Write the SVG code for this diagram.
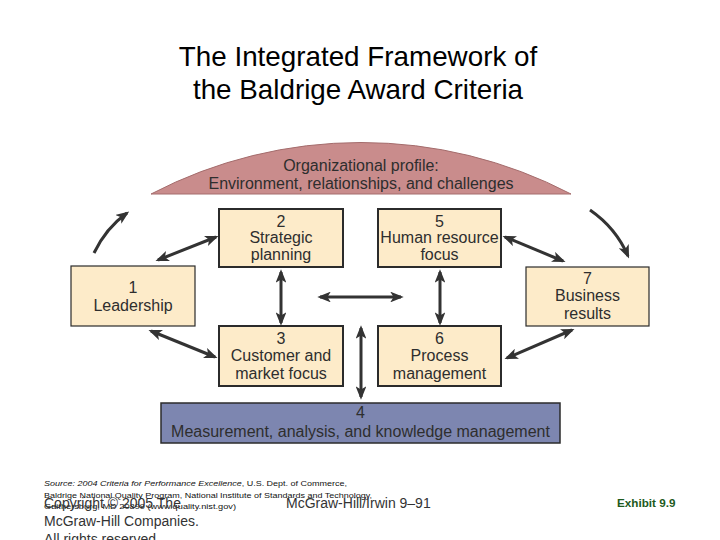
<svg xmlns="http://www.w3.org/2000/svg" width="720" height="540" viewBox="0 0 720 540">
<style>
.t{font-family:"Liberation Sans",Arial,sans-serif;fill:#2e2e2e;text-anchor:middle;font-size:16px}
.title{font-family:"Liberation Sans",Arial,sans-serif;font-size:27.8px;fill:#000;text-anchor:middle}
.box{fill:#fdebc9;stroke:#2b2b2b;stroke-width:2}
.thin{stroke-width:1.2}
.conn{fill:none;stroke:#333;stroke-width:3;marker-end:url(#ah)}
.bi{marker-start:url(#ah)}
.small{font-family:"Liberation Sans",Arial,sans-serif;font-size:8px;fill:#111}
.foot{font-family:"Liberation Sans",Arial,sans-serif;font-size:14px;fill:#333}
</style>
<defs>
<marker id="ah" viewBox="0 0 10 8" refX="8" refY="4" markerWidth="4.5" markerHeight="3.6" orient="auto-start-reverse" markerUnits="strokeWidth">
<path d="M0,0 L10,4 L0,8 L2.5,4 Z" fill="#333"/>
</marker>
</defs>
<rect width="720" height="540" fill="#fff"/>
<text class="title" x="358" y="66">The Integrated Framework of</text>
<text class="title" x="358" y="99">the Baldrige Award Criteria</text>

<g id="profile">
<path d="M151,194 A454,454 0 0 1 571,194 Z" fill="#c98c8c" stroke="#a46c6c" stroke-width="1"/>
<text class="t" x="361" y="171">Organizational profile:</text>
<text class="t" x="361" y="189">Environment, relationships, and challenges</text>
</g>

<g id="n1">
<rect class="box thin" x="71" y="266" width="124" height="60"/>
<text class="t" x="133" y="293">1</text>
<text class="t" x="133" y="311">Leadership</text>
</g>
<g id="n2">
<rect class="box" x="219" y="209" width="124" height="58"/>
<text class="t" x="281" y="227">2</text>
<text class="t" x="281" y="243">Strategic</text>
<text class="t" x="281" y="260">planning</text>
</g>
<g id="n5">
<rect class="box" x="378" y="209" width="123" height="58"/>
<text class="t" x="439.5" y="227">5</text>
<text class="t" x="439.5" y="243">Human resource</text>
<text class="t" x="439.5" y="260">focus</text>
</g>
<g id="n7">
<rect class="box thin" x="526" y="267" width="123" height="59"/>
<text class="t" x="587.5" y="284">7</text>
<text class="t" x="587.5" y="301">Business</text>
<text class="t" x="587.5" y="319">results</text>
</g>
<g id="n3">
<rect class="box" x="219" y="326" width="124" height="60"/>
<text class="t" x="281" y="344">3</text>
<text class="t" x="281" y="361">Customer and</text>
<text class="t" x="281" y="379">market focus</text>
</g>
<g id="n6">
<rect class="box" x="378" y="326" width="123" height="60"/>
<text class="t" x="439.5" y="344">6</text>
<text class="t" x="439.5" y="361">Process</text>
<text class="t" x="439.5" y="379">management</text>
</g>
<g id="n4">
<rect x="161" y="403" width="399" height="40" fill="#7d86b0" stroke="#2b2b2b" stroke-width="1.5"/>
<text class="t" x="360.5" y="418">4</text>
<text class="t" x="360.5" y="437">Measurement, analysis, and knowledge management</text>
</g>

<g id="connectors">
<path class="conn bi" d="M281,272 L281,323"/>
<path class="conn bi" d="M440,272 L440,323"/>
<path class="conn bi" d="M320,297 L401,297"/>
<path class="conn bi" d="M361,328 L361,397"/>
<path class="conn bi" d="M158,260 L216,237"/>
<path class="conn bi" d="M505,237 L563,261"/>
<path class="conn bi" d="M151,331 L215,357"/>
<path class="conn bi" d="M507,358 L572,330"/>
<path class="conn" d="M94,253 Q106,228 127,213"/>
<path class="conn" d="M590,210 Q616,228 628,256"/>
</g>

<g id="footer">
<text class="small" x="44" y="486" textLength="303" lengthAdjust="spacingAndGlyphs"><tspan font-style="italic">Source: 2004 Criteria for Performance Excellence</tspan>, U.S. Dept. of Commerce,</text>
<text class="small" x="44" y="498" textLength="328" lengthAdjust="spacingAndGlyphs">Baldrige National Quality Program, National Institute of Standards and Technology,</text>
<text class="small" x="44" y="509" textLength="192" lengthAdjust="spacingAndGlyphs">Gaithersburg, MD 20899 (www.quality.nist.gov)</text>
<text class="foot" x="44" y="508">Copyright © 2005 The</text>
<text class="foot" x="44" y="526">McGraw-Hill Companies.</text>
<text class="foot" x="44" y="544">All rights reserved.</text>
<text class="foot" x="286" y="508">McGraw-Hill/Irwin  9–91</text>
<text x="617" y="507" font-family="'Liberation Sans',Arial,sans-serif" font-size="11.7" font-weight="bold" fill="#1d5a1d">Exhibit 9.9</text>
</g>
</svg>
